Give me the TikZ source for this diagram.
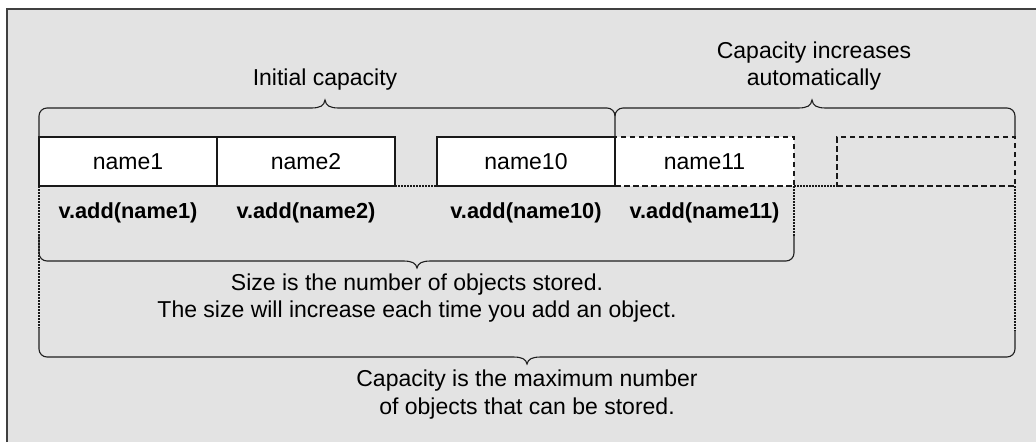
\documentclass[tikz,border=0pt]{standalone}
\usepackage{fontspec}
\setmainfont{Liberation Sans}
\begin{document}
\begin{tikzpicture}[x=1pt,y=-1pt,
  every node/.style={inner sep=0pt,outer sep=0pt,font=\fontsize{23}{27.5}\selectfont},
  cell/.style={draw=black!90,line width=1.1pt,minimum width=178pt,minimum height=49pt,fill=white,anchor=center},
  dcell/.style={cell,dashed,dash pattern=on 5.5pt off 3.5pt},
  br/.style={draw=black!88,line width=1.1pt},
  dotl/.style={draw=black!90,line width=1.1pt,dash pattern=on 1.5pt off 1.5pt},
  lbl/.style={align=center},
  call/.style={font=\fontsize{21.8}{27}\selectfont\bfseries}]
\useasboundingbox (0,0) rectangle (1036,442);
\fill[white] (0,0) rectangle (1036,442);
\fill[black!11] (7,9) rectangle (1036,442);
\draw[black!75,line width=2pt] (7,442) -- (7,9) -- (1036,9);

% cells
\node[dcell,minimum width=179pt] (b11) at (704.5,161.5) {name11};
\node[cell] (b1) at (128,161.5) {name1};
\node[cell] (b2) at (306,161.5) {name2};
\node[cell] (b10) at (526,161.5) {name10};
\node[dcell,fill=none] (b12) at (926,161.5) {};

% dotted gaps
\draw[dotl] (b2.south east) -- (b10.south west);
\draw[dotl] (b11.south east) -- (b12.south west);

% dotted verticals
\draw[dotl] (b1.south west) -- (39,328);
\draw[dotl] (b11.south east) -- (794,236);
\draw[dotl] (b12.south east) -- (1015,331);

% top braces
\draw[br] (b1.north west) -- (39,116) .. controls (39,111.6) and (42.6,108) .. (47,108) -- (311,108)
  .. controls (320,108) and (324,106) .. (325,100)
  .. controls (326,106) and (330,108) .. (339,108) -- (607,108)
  .. controls (611.4,108) and (615,111.6) .. (615,116) -- (b10.north east);
\draw[br] (615,116) .. controls (615,111.6) and (618.6,108) .. (623,108) -- (798,108)
  .. controls (807,108) and (811,106) .. (812,100)
  .. controls (813,106) and (817,108) .. (826,108) -- (1007,108)
  .. controls (1011.4,108) and (1015,111.6) .. (1015,116) -- (b12.north east);

% bottom braces
\draw[br] (39,234) -- (39,253) .. controls (39,257.4) and (42.6,261) .. (47,261) -- (403,261)
  .. controls (412,261) and (416,263) .. (417,268)
  .. controls (418,263) and (422,261) .. (431,261) -- (786,261)
  .. controls (790.4,261) and (794,257.4) .. (794,253) -- (794,236);
\draw[br] (39,328) -- (39,349) .. controls (39,353.4) and (42.6,357) .. (47,357) -- (513,357)
  .. controls (522,357) and (526,359) .. (527,364)
  .. controls (528,359) and (532,357) .. (541,357) -- (1007,357)
  .. controls (1011.4,357) and (1015,353.4) .. (1015,349) -- (1015,331);

% labels
\node[lbl] (tinit) at (325,80) {Initial capacity};
\node[lbl] (tinc) at (814,66) {Capacity increases\\automatically};
\node[call] (c1) at (128,213) {v.add(name1)};
\node[call] (c2) at (306,213) {v.add(name2)};
\node[call] (c10) at (526,213) {v.add(name10)};
\node[call] (c11) at (704.5,213) {v.add(name11)};
\node[lbl] (tsize) at (417,298) {Size is the number of objects stored.\\The size will increase each time you add an object.};
\node[lbl] (tcap) at (527,394.5) {Capacity is the maximum number\\of objects that can be stored.};
\end{tikzpicture}
\end{document}
